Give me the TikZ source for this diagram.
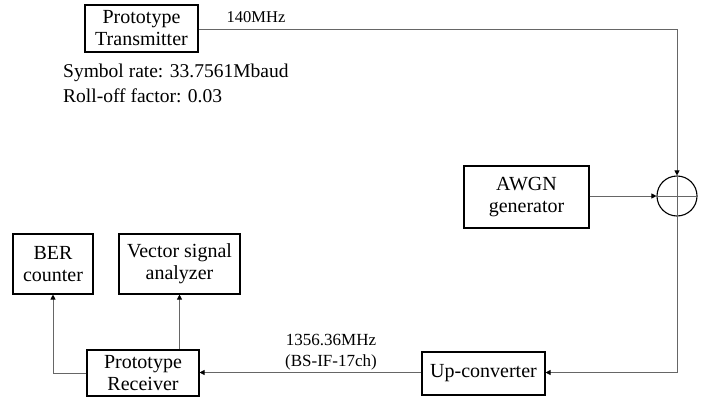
\documentclass[tikz,border=0pt]{standalone}
\usepackage{fontspec}
\setmainfont{Liberation Serif}
\usetikzlibrary{arrows.meta}
\begin{document}
\begin{tikzpicture}[x=1pt,y=-1pt,
  blk/.style={draw=black,line width=1.1pt,fill=white,inner sep=0pt,align=center,
    font=\fontsize{20}{22}\selectfont},
  wire/.style={draw=black!60,line width=0.8pt},
  arr/.style={wire,-{Triangle[length=5pt,width=5pt,fill=black,color=black]}},
  lbl/.style={inner sep=0pt,align=center,font=\fontsize{17}{22}\selectfont},
  note/.style={inner sep=0pt,anchor=west,font=\fontsize{19.5}{23}\selectfont}]
\useasboundingbox (0,0) rectangle (709,396);

% blocks
\node[blk,minimum width=113pt,minimum height=47pt] (tx) at (141.5,28.5) {Prototype\\Transmitter};
\node[blk,minimum width=125pt,minimum height=62pt] (awgn) at (526.5,197) {AWGN\\generator};
\node[circle,draw=black,line width=1.1pt,minimum size=40pt,inner sep=0pt] (sum) at (677,196) {};
\node[blk,minimum width=123pt,minimum height=43pt] (up) at (483.5,373.5) {Up-converter};
\node[blk,minimum width=112pt,minimum height=46pt] (rx) at (143,373) {Prototype\\Receiver};
\node[blk,minimum width=80pt,minimum height=60pt] (ber) at (53,264) {BER\\counter};
\node[blk,minimum width=121pt,minimum height=60pt] (vsa) at (179.5,264) {Vector signal\\analyzer};

% adder cross
\draw[wire] (sum.north) -- (sum.south);
\draw[wire] (sum.west) -- (sum.east);

% connectors
\coordinate (c1) at (677,29);
\draw[arr] (tx.east |- c1) -- (c1) -- (sum.north);
\draw[arr] (awgn.east |- sum.west) -- (sum.west);
\coordinate (c2) at (677,372.5);
\draw[arr] (sum.south) -- (c2) -- (up.east |- c2);
\draw[arr] (up.west |- c2) -- (rx.east |- c2);
\coordinate (c3) at (53,373);
\draw[arr] (rx.west |- c3) -- (c3) -- (ber.south);
\draw[arr] (vsa.south |- rx.north) -- (vsa.south);

% labels
\node[lbl,font=\fontsize{16.5}{20}\selectfont] (f1) at (256,17) {140MHz};
\node[lbl] (f2) at (331,340) {1356.36MHz};
\node[lbl] (f3) at (331,362) {(BS-IF-17ch)};
\node[note] (sr) at (63,73) {Symbol rate: 33.7561Mbaud};
\node[note] (ro) at (63,96) {Roll-off factor: 0.03};
\end{tikzpicture}
\end{document}
